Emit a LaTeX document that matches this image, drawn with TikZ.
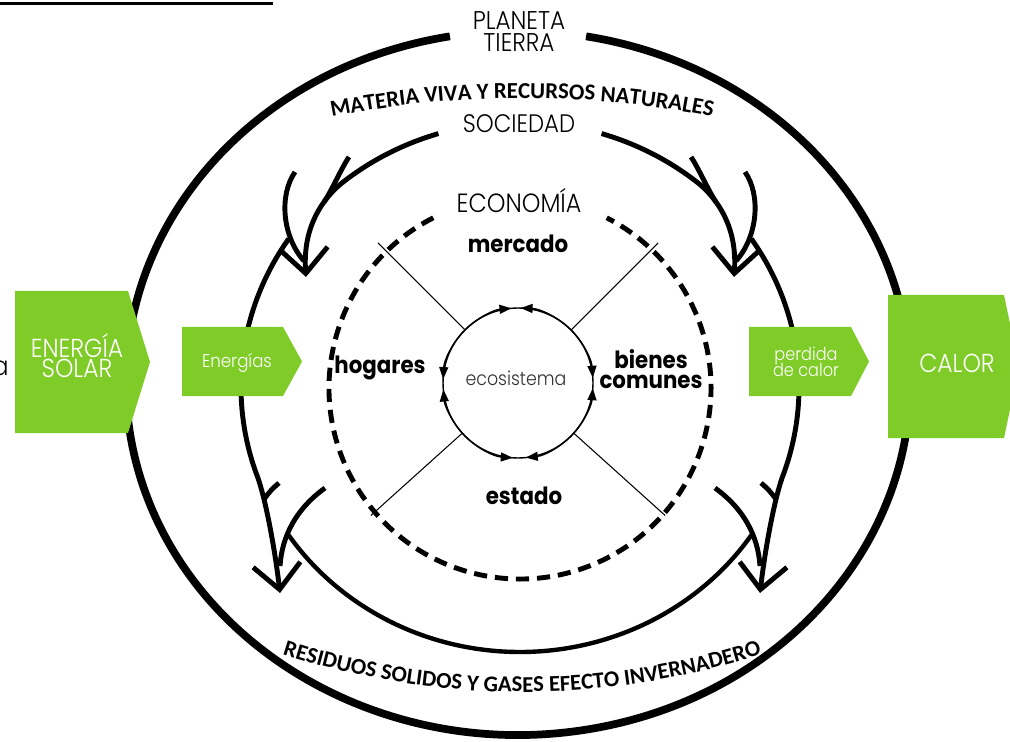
\documentclass[tikz,border=0pt]{standalone}
\usepackage{fontspec}
\usepackage{tikz}
\usetikzlibrary{arrows.meta,decorations.text}
\newfontfamily\geo{Poppins}[FakeStretch=0.9]
\newfontfamily\geolig{Poppins Light}[FakeStretch=0.9]
\newfontfamily\calib{Carlito}
\definecolor{verde}{RGB}{127,204,41}

\begin{document}
\begin{tikzpicture}[x=0.02cm,y=0.02cm,
  anillo/.style={line width=2.5pt},
  rama/.style={line width=2.8pt},
  flecha/.style={line width=2.8pt,-{Straight Barb[length=0.5cm,width=0.95cm]}},
  fino/.style={line width=0.6pt},
  flechita/.style={line width=0.8pt,-{Triangle[length=0.24cm,width=0.18cm]}},
  blanco/.style={text=white,inner sep=0pt,align=center},
  negro/.style={inner sep=0pt,anchor=base}]
\clip (0,0) rectangle (1010,741);
\fill[white] (0,0) rectangle (1010,741);

% restos del titulo
\draw[line width=1.2pt] (0,737.5) -- (273,737.5);
\node[negro,anchor=base east,font=\geolig\fontsize{15}{15}\selectfont] (letra) at (9,366) {a};

% planeta tierra
\draw[line width=4.4pt] (518,358) ++(100:392 and 352) arc[start angle=100,end angle=440,x radius=392,y radius=352];
\node[inner sep=0pt,align=center,font=\geolig\fontsize{14.6}{12.5}\selectfont] (planeta) at (519,709) {PLANETA\\TIERRA};
\path[decorate,decoration={text along path,text align=center,
  text={|\calib\bfseries\fontsize{13pt}{14pt}\selectfont|MATERIA VIVA Y RECURSOS NATURALES}}]
  (522,-326) ++(105:969) arc[start angle=105,end angle=75,radius=969];
\path[decorate,decoration={text along path,text align=center,
  text={|\calib\bfseries\fontsize{12.9pt}{14pt}\selectfont|RESIDUOS SOLIDOS Y GASES EFECTO INVERNADERO}}]
  (522,827) ++(248:778) arc[start angle=248,end angle=292,radius=778];

% puntas de las flechas grandes
\coordinate (pTL) at (306,464);
\coordinate (pTR) at (734,464);
\coordinate (pBL) at (280,148);
\coordinate (pBR) at (760,148);

% sociedad
\node[negro,font=\geolig\fontsize{14.4}{14}\selectfont] (sociedad) at (519,608) {SOCIEDAD};
\draw[flecha] (520,354) ++(107:279 and 265) arc[start angle=107,end angle=130,x radius=279,y radius=265] .. controls (316,536) and (303,506) .. (pTL);
\draw[rama] (349,584) .. controls (342,574) and (331,549) .. (324,539);
\draw[rama] (295,569) .. controls (279,546) and (282,505) .. (304,480);
\draw[flecha] (520,354) ++(73:279 and 265) arc[start angle=73,end angle=50,x radius=279,y radius=265] .. controls (724,536) and (737,506) .. (pTR);
\draw[rama] (691,584) .. controls (698,574) and (709,549) .. (716,539);
\draw[rama] (745,569) .. controls (761,546) and (758,505) .. (736,480);
\draw[flecha] (520,354) ++(146:279 and 265) arc[start angle=146,end angle=200,x radius=279,y radius=265] .. controls (266,240) and (275,191) .. (pBL);
\draw[rama] (279,258) .. controls (272,252) .. (264,242);
\draw[rama] (325,253) .. controls (296,232) and (282,205) .. (280,175);
\draw[flecha] (520,354) ++(34:279 and 265) arc[start angle=34,end angle=-20,x radius=279,y radius=265] .. controls (774,240) and (765,191) .. (pBR);
\draw[rama] (761,258) .. controls (768,252) .. (776,242);
\draw[rama] (715,253) .. controls (744,232) and (758,205) .. (760,175);
\draw[anillo] (520,354) ++(214:279 and 265) arc[start angle=214,end angle=326,x radius=279,y radius=265];

% economia
\draw[line width=2.8pt,dash pattern=on 7.5pt off 4.5pt] (520,353) ++(117:191) arc[start angle=117,end angle=423,radius=191];
\node[negro,font=\geolig\fontsize{15}{14}\selectfont] (economia) at (519,528) {ECONOMÍA};
\node[negro,font=\geo\bfseries\fontsize{13.5}{13.5}\selectfont] (mercado) at (518,488) {mercado};
\node[negro,font=\geo\bfseries\fontsize{13.5}{13.5}\selectfont] (hogares) at (380,368) {hogares};
\node[inner sep=0pt,align=center,font=\geo\bfseries\fontsize{13.5}{11.3}\selectfont] (bienes) at (651,372) {bienes\\comunes};
\node[negro,font=\geo\bfseries\fontsize{13.5}{13.5}\selectfont] (estado) at (524,237) {estado};

% ecosistema
\node[circle,draw,line width=0.8pt,minimum size=3cm,inner sep=0pt,outer sep=0pt] (eco) at (518,358) {};
\node[negro,text=black!80,font=\geolig\fontsize{11}{12}\selectfont] (ecotxt) at (516,356) {ecosistema};
\path (eco.center) ++(135:198) coordinate (rUL);
\path (eco.center) ++(45:198) coordinate (rUR);
\path (eco.center) ++(222:198) coordinate (rLL);
\path (eco.center) ++(318:198) coordinate (rLR);
\draw[fino] (eco.135) -- (rUL);
\draw[fino] (eco.45) -- (rUR);
\draw[fino] (eco.222) -- (rLL);
\draw[fino] (eco.318) -- (rLR);
\draw[flechita] (eco.135) arc[start angle=135,end angle=95,radius=75];
\draw[flechita] (eco.45) arc[start angle=45,end angle=88,radius=75];
\draw[flechita] (eco.135) arc[start angle=135,end angle=177,radius=75];
\draw[flechita] (eco.222) arc[start angle=222,end angle=185,radius=75];
\draw[flechita] (eco.45) arc[start angle=45,end angle=4,radius=75];
\draw[flechita] (eco.318) arc[start angle=318,end angle=356,radius=75];
\draw[flechita] (eco.222) arc[start angle=222,end angle=266,radius=75];
\draw[flechita] (eco.318) arc[start angle=318,end angle=276,radius=75];

% cajas verdes
\fill[verde] (15,308) -- (15,450) -- (128,450) -- (150,379) -- (128,308) -- cycle;
\fill[verde] (182,345) -- (182,414) -- (283,414) -- (302,379.5) -- (283,345) -- cycle;
\fill[verde] (749,345) -- (749,414) -- (851,414) -- (869,379.5) -- (851,345) -- cycle;
\fill[verde] (888,303) -- (888,446) -- (1004,446) -- (1019,374.5) -- (1004,303) -- cycle;
\node[blanco,font=\geolig\fontsize{14.8}{11.3}\selectfont] (solar) at (77,385) {ENERGÍA\\SOLAR};
\node[blanco,anchor=base,font=\geolig\fontsize{10.5}{12}\selectfont] (energias) at (237,374) {Energías};
\node[blanco,font={\geolig\fontsize{10.2}{9}\selectfont\lineskiplimit=-5pt}] (perdida) at (806,379.5) {perdida\\de calor};
\node[blanco,anchor=base,font=\geolig\fontsize{14.8}{14}\selectfont] (calor) at (957,369) {CALOR};
\end{tikzpicture}
\end{document}
